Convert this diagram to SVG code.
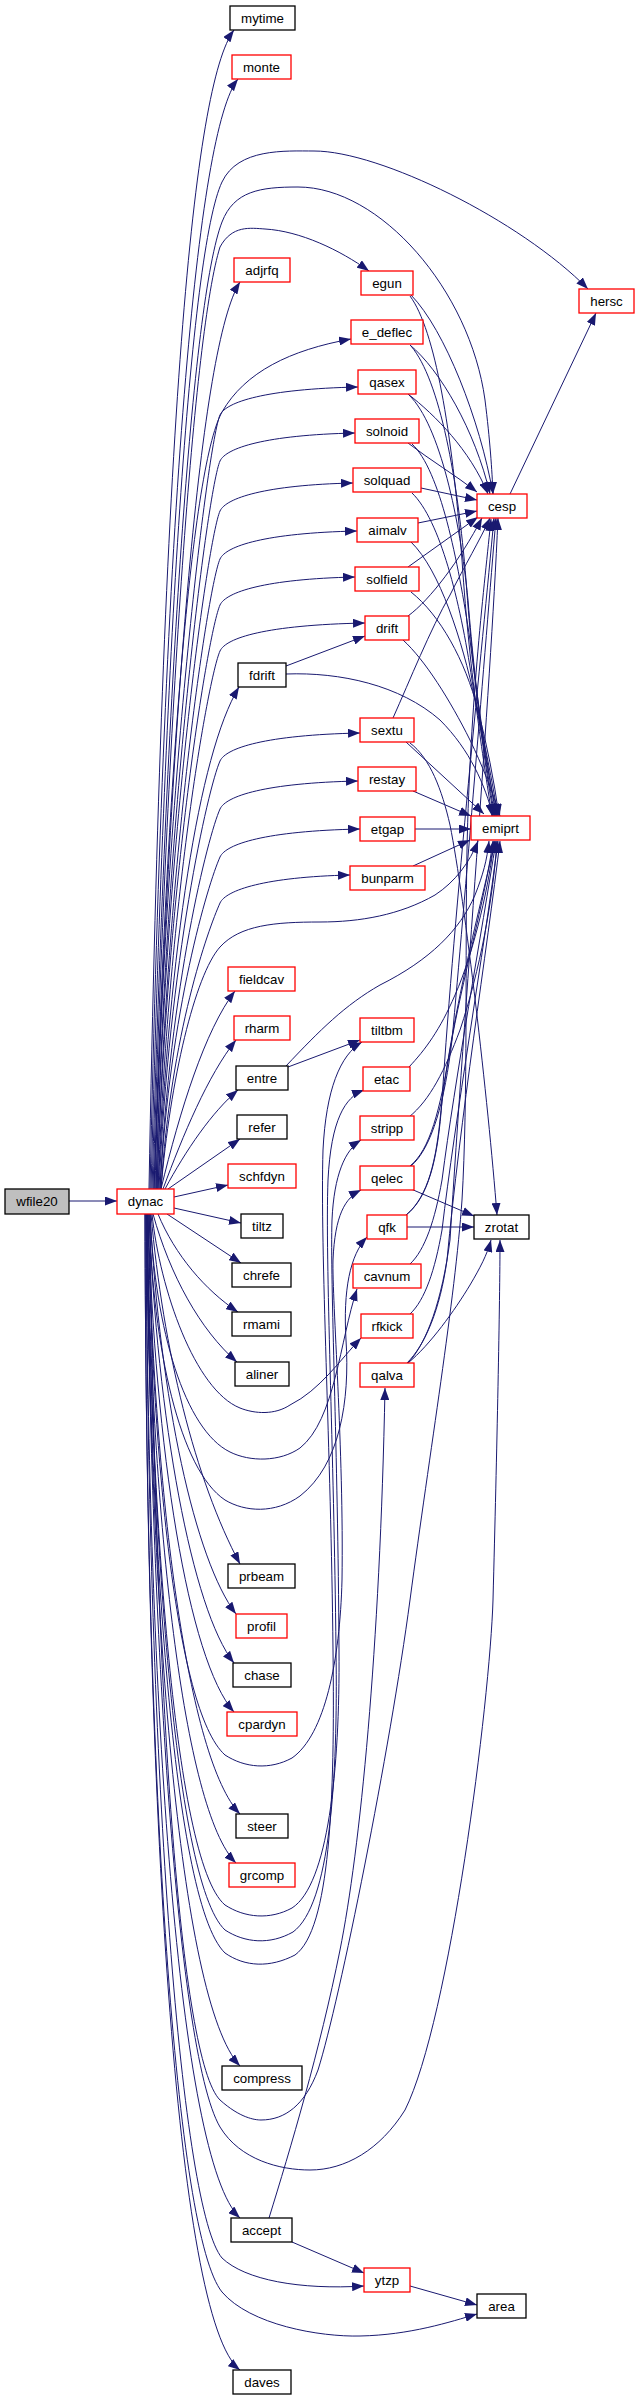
<svg xmlns="http://www.w3.org/2000/svg" width="636" height="2400" viewBox="0 0 636 2400">
<style>
.n rect{fill:#fff;stroke:#000;stroke-width:1.3}
.r rect{stroke:#ff0000}
.g rect{fill:#bfbfbf}
text{font-family:"Liberation Sans",Arial,Helvetica,sans-serif;font-size:13.3px;text-anchor:middle;fill:#000}
#edges path{fill:none;stroke:#191970;stroke-width:1;marker-end:url(#a)}
</style>
<defs>
<marker id="a" viewBox="0 0 12 9" refX="12" refY="4.5" markerWidth="12" markerHeight="9" markerUnits="userSpaceOnUse" orient="auto"><path d="M0,0 L12,4.5 L0,9 z" fill="#191970"/></marker>
</defs>
<rect width="636" height="2400" fill="#fff"/>
<g id="edges">
<path d="M69,1201 L117,1201"/>
<path d="M149,1189 C163,420 193,85 234,30"/>
<path d="M150,1189 C165,500 197,130 238,79"/>
<path d="M151,1189 C165,650 190,250 222,182 C238,148 285,151 314,151 C380,151 520,220 588,289"/>
<path d="M152,1189 C167,680 192,300 222,222 C234,191 260,187 298,187 C380,187 470,290 485,400 C490,440 492,470 493,494"/>
<path d="M153,1189 C168,700 194,330 220,247 C232,225 250,228 265,229 C300,231 340,250 369,271"/>
<path d="M154,1189 C172,700 200,345 240,282"/>
<path d="M154,1189 C166,800 190,470 222,412 C245,372 290,350 351,339"/>
<path d="M155,1189 C165,788 208,442 220,415 C226,402 265,389 358,387"/>
<path d="M156,1189 C166,811 208,488 220,461 C226,448 265,435 355,433"/>
<path d="M156,1189 C166,836 208,538 220,511 C226,498 265,485 353,483"/>
<path d="M157,1189 C167,860 208,586 220,559 C226,546 265,533 357,531"/>
<path d="M157,1189 C167,883 208,632 220,605 C226,592 265,579 355,577"/>
<path d="M158,1189 C168,906 208,678 220,651 C226,638 265,625 365,623"/>
<path d="M159,1189 C169,961 208,788 220,761 C226,748 265,735 360,733"/>
<path d="M160,1189 C170,985 208,836 220,809 C226,796 265,783 358,781"/>
<path d="M160,1189 C170,1009 208,884 220,857 C226,844 265,831 360,829"/>
<path d="M161,1189 C171,1032 208,930 220,903 C226,890 265,877 350,875"/>
<path d="M158,1189 C170,950 198,755 239,687"/>
<path d="M161,1189 C170,1080 195,975 220,947 C240,925 275,922 320,922 C360,922 400,915 435,895 C455,882 470,862 478,841"/>
<path d="M161,1189 C180,1110 205,1030 235,991"/>
<path d="M163,1189 C183,1135 208,1075 236,1040"/>
<path d="M165,1189 C186,1150 212,1112 238,1090"/>
<path d="M168,1189 L240,1139"/>
<path d="M174,1197 L228,1185"/>
<path d="M174,1208 L241,1223"/>
<path d="M167,1214 L241,1263"/>
<path d="M158,1214 C175,1255 205,1290 238,1312"/>
<path d="M153,1214 C170,1275 200,1330 237,1362"/>
<path d="M151,1214 C163,1350 195,1480 240,1564"/>
<path d="M150,1214 C160,1400 195,1560 236,1614"/>
<path d="M149,1214 C157,1420 192,1610 234,1663"/>
<path d="M148,1214 C155,1450 188,1660 234,1712"/>
<path d="M148,1214 C154,1500 188,1760 240,1814"/>
<path d="M147,1214 C152,1520 183,1810 236,1863"/>
<path d="M147,1214 C150,1600 178,2000 240,2066"/>
<path d="M146,1214 C148,1700 178,2160 240,2218"/>
<path d="M145,1214 C146,1800 175,2320 240,2370"/>
<path d="M146,1214 C148,1800 182,2210 222,2258 C245,2280 300,2290 364,2286"/>
<path d="M145,1214 C146,1800 176,2235 222,2292 C250,2325 320,2337 360,2336 C410,2335 450,2322 477,2314"/>
<path d="M152,1214 C160,1290 195,1390 240,1408 C255,1414 275,1415 290,1405 C320,1390 340,1360 361,1338"/>
<path d="M150,1214 C155,1330 185,1430 230,1452 C250,1462 280,1462 300,1448 C335,1420 340,1340 357,1289"/>
<path d="M149,1214 C153,1350 180,1470 225,1500 C245,1512 275,1514 300,1496 C340,1465 350,1400 346,1340 C343,1290 350,1255 367,1237"/>
<path d="M148,1214 C152,1450 175,1710 225,1755 C245,1768 270,1770 292,1758 C325,1735 340,1660 342,1580 C344,1450 332,1300 333,1260 C335,1215 345,1198 361,1190"/>
<path d="M147,1214 C151,1490 172,1860 225,1905 C245,1918 270,1920 292,1908 C328,1885 340,1770 339,1650 C338,1450 330,1280 332,1220 C334,1175 345,1150 361,1140"/>
<path d="M147,1214 C151,1500 172,1880 225,1930 C245,1943 270,1945 293,1932 C330,1905 338,1780 336,1650 C334,1450 325,1260 328,1180 C331,1120 345,1097 364,1090"/>
<path d="M146,1214 C150,1500 170,1900 225,1953 C245,1967 270,1968 295,1955 C330,1930 335,1800 333,1650 C331,1450 320,1250 323,1150 C326,1090 340,1055 362,1042"/>
<path d="M150,1214 C155,1700 180,2060 220,2100 C240,2118 255,2120 261,2120 C285,2120 305,2105 318,2070 C340,2000 390,1750 410,1600 C430,1450 455,1300 462,1200 C468,1100 465,950 467,850 C470,700 485,580 491,519"/>
<path d="M147,1214 C150,1600 175,2050 220,2127 C240,2160 280,2170 310,2170 C345,2170 380,2150 405,2110 C450,2020 490,1700 493,1600 C497,1450 500,1300 500,1240"/>
<path d="M286,666 L365,636"/>
<path d="M286,674 C340,672 400,685 440,720 C470,750 485,785 493,816"/>
<path d="M411,295 C445,330 480,420 493,494"/>
<path d="M410,296 C435,330 452,430 462,560 C470,680 485,770 492,816"/>
<path d="M410,345 C440,370 475,430 490,494"/>
<path d="M411,346 C440,380 458,480 466,580 C474,690 487,780 494,816"/>
<path d="M408,394 C435,415 470,450 488,494"/>
<path d="M409,395 C440,425 460,520 468,600 C476,700 488,780 495,816"/>
<path d="M408,443 C430,460 455,475 477,492"/>
<path d="M412,444 C440,470 458,560 470,640 C480,720 490,780 496,816"/>
<path d="M421,488 L477,500"/>
<path d="M412,493 C440,520 460,600 472,680 C482,740 490,780 497,816"/>
<path d="M418,523 L477,511"/>
<path d="M411,542 C440,570 462,640 475,700 C485,745 492,780 498,816"/>
<path d="M408,567 L478,517"/>
<path d="M411,592 C440,615 465,660 478,710 C487,745 494,780 499,816"/>
<path d="M408,616 C430,600 460,560 482,518"/>
<path d="M403,640 C425,660 450,700 470,740 C482,765 492,790 500,816"/>
<path d="M393,718 C410,680 430,630 450,595 C465,565 480,540 490,518"/>
<path d="M406,742 L484,814"/>
<path d="M410,743 C430,758 442,790 450,825 C465,900 488,1100 497,1215"/>
<path d="M413,791 L471,816"/>
<path d="M415,829 L471,829"/>
<path d="M413,866 L470,840"/>
<path d="M288,1067 L360,1040"/>
<path d="M286,1066 C320,1030 345,1005 380,985 C430,960 460,930 475,895 C483,875 487,860 489,841"/>
<path d="M409,1067 C425,1050 440,1030 455,995 C475,950 490,880 494,841"/>
<path d="M409,1117 C430,1100 445,1070 460,1030 C480,970 493,900 497,841"/>
<path d="M410,1166 C430,1150 440,1110 450,1050 C462,980 485,900 493,841"/>
<path d="M411,1166 C432,1148 445,1100 452,1040 C465,900 485,650 496,518"/>
<path d="M411,1189 L474,1216"/>
<path d="M405,1216 C425,1200 435,1170 440,1120 C450,1020 482,900 495,841"/>
<path d="M406,1215 C428,1198 438,1160 442,1100 C455,900 482,650 494,518"/>
<path d="M407,1227 L474,1227"/>
<path d="M410,1264 C425,1250 435,1220 442,1180 C455,1080 482,930 496,841"/>
<path d="M410,1314 C425,1300 435,1270 442,1230 C455,1120 484,950 498,841"/>
<path d="M407,1363 C425,1345 440,1310 447,1260 C460,1120 487,950 500,841"/>
<path d="M408,1363 C427,1343 442,1300 450,1240 C465,1000 490,700 498,518"/>
<path d="M408,1363 C430,1345 455,1310 470,1285 C480,1268 487,1255 491,1240"/>
<path d="M510,494 L596,313"/>
<path d="M292,2242 L364,2273"/>
<path d="M269,2218 C290,2150 320,2050 340,1950 C360,1850 380,1650 385,1388"/>
<path d="M410,2286 L477,2305"/>
</g>
<g id="node_wfile20" class="n g"><rect x="5" y="1189" width="64" height="25"/><text x="37" y="1206">wfile20</text></g>
<g id="node_dynac" class="n r"><rect x="117" y="1189" width="57" height="25"/><text x="145.5" y="1206">dynac</text></g>
<g id="node_mytime" class="n"><rect x="230" y="6" width="65" height="24"/><text x="262.5" y="22.5">mytime</text></g>
<g id="node_monte" class="n r"><rect x="232" y="55" width="59" height="24"/><text x="261.5" y="71.5">monte</text></g>
<g id="node_adjrfq" class="n r"><rect x="234" y="258" width="56" height="24"/><text x="262" y="274.5">adjrfq</text></g>
<g id="node_fdrift" class="n"><rect x="238" y="663" width="48" height="24"/><text x="262" y="679.5">fdrift</text></g>
<g id="node_fieldcav" class="n r"><rect x="228" y="967" width="67" height="24"/><text x="261.5" y="983.5">fieldcav</text></g>
<g id="node_rharm" class="n r"><rect x="234" y="1016" width="56" height="24"/><text x="262" y="1032.5">rharm</text></g>
<g id="node_entre" class="n"><rect x="236" y="1066" width="52" height="24"/><text x="262" y="1082.5">entre</text></g>
<g id="node_refer" class="n"><rect x="237" y="1115" width="50" height="24"/><text x="262" y="1131.5">refer</text></g>
<g id="node_schfdyn" class="n r"><rect x="228" y="1164" width="68" height="24"/><text x="262" y="1180.5">schfdyn</text></g>
<g id="node_tiltz" class="n"><rect x="241" y="1214" width="42" height="24"/><text x="262" y="1230.5">tiltz</text></g>
<g id="node_chrefe" class="n"><rect x="232" y="1263" width="59" height="24"/><text x="261.5" y="1279.5">chrefe</text></g>
<g id="node_rmami" class="n"><rect x="232" y="1312" width="59" height="24"/><text x="261.5" y="1328.5">rmami</text></g>
<g id="node_aliner" class="n"><rect x="235" y="1362" width="54" height="24"/><text x="262" y="1378.5">aliner</text></g>
<g id="node_prbeam" class="n"><rect x="228" y="1564" width="67" height="24"/><text x="261.5" y="1580.5">prbeam</text></g>
<g id="node_profil" class="n r"><rect x="236" y="1614" width="51" height="24"/><text x="261.5" y="1630.5">profil</text></g>
<g id="node_chase" class="n"><rect x="233" y="1663" width="58" height="24"/><text x="262" y="1679.5">chase</text></g>
<g id="node_cpardyn" class="n r"><rect x="227" y="1712" width="70" height="24"/><text x="262" y="1728.5">cpardyn</text></g>
<g id="node_steer" class="n"><rect x="236" y="1814" width="52" height="24"/><text x="262" y="1830.5">steer</text></g>
<g id="node_grcomp" class="n r"><rect x="229" y="1863" width="66" height="24"/><text x="262" y="1879.5">grcomp</text></g>
<g id="node_compress" class="n"><rect x="222" y="2066" width="80" height="24"/><text x="262" y="2082.5">compress</text></g>
<g id="node_accept" class="n"><rect x="231" y="2218" width="61" height="24"/><text x="261.5" y="2234.5">accept</text></g>
<g id="node_daves" class="n"><rect x="233" y="2370" width="58" height="24"/><text x="262" y="2386.5">daves</text></g>
<g id="node_egun" class="n r"><rect x="361" y="271" width="52" height="24"/><text x="387" y="287.5">egun</text></g>
<g id="node_e_deflec" class="n r"><rect x="351" y="320" width="72" height="24"/><text x="387" y="336.5">e_deflec</text></g>
<g id="node_qasex" class="n r"><rect x="358" y="370" width="58" height="24"/><text x="387" y="386.5">qasex</text></g>
<g id="node_solnoid" class="n r"><rect x="355" y="419" width="64" height="24"/><text x="387" y="435.5">solnoid</text></g>
<g id="node_solquad" class="n r"><rect x="353" y="468" width="68" height="24"/><text x="387" y="484.5">solquad</text></g>
<g id="node_aimalv" class="n r"><rect x="357" y="518" width="61" height="24"/><text x="387.5" y="534.5">aimalv</text></g>
<g id="node_solfield" class="n r"><rect x="355" y="567" width="64" height="24"/><text x="387" y="583.5">solfield</text></g>
<g id="node_drift" class="n r"><rect x="365" y="616" width="44" height="24"/><text x="387" y="632.5">drift</text></g>
<g id="node_sextu" class="n r"><rect x="360" y="718" width="54" height="24"/><text x="387" y="734.5">sextu</text></g>
<g id="node_restay" class="n r"><rect x="358" y="767" width="58" height="24"/><text x="387" y="783.5">restay</text></g>
<g id="node_etgap" class="n r"><rect x="360" y="817" width="55" height="24"/><text x="387.5" y="833.5">etgap</text></g>
<g id="node_bunparm" class="n r"><rect x="350" y="866" width="75" height="24"/><text x="387.5" y="882.5">bunparm</text></g>
<g id="node_tiltbm" class="n r"><rect x="360" y="1018" width="54" height="24"/><text x="387" y="1034.5">tiltbm</text></g>
<g id="node_etac" class="n r"><rect x="363" y="1067" width="47" height="24"/><text x="386.5" y="1083.5">etac</text></g>
<g id="node_stripp" class="n r"><rect x="360" y="1116" width="54" height="24"/><text x="387" y="1132.5">stripp</text></g>
<g id="node_qelec" class="n r"><rect x="360" y="1166" width="54" height="24"/><text x="387" y="1182.5">qelec</text></g>
<g id="node_qfk" class="n r"><rect x="367" y="1215" width="40" height="24"/><text x="387" y="1231.5">qfk</text></g>
<g id="node_cavnum" class="n r"><rect x="353" y="1264" width="68" height="24"/><text x="387" y="1280.5">cavnum</text></g>
<g id="node_rfkick" class="n r"><rect x="361" y="1314" width="52" height="24"/><text x="387" y="1330.5">rfkick</text></g>
<g id="node_qalva" class="n r"><rect x="360" y="1363" width="54" height="24"/><text x="387" y="1379.5">qalva</text></g>
<g id="node_ytzp" class="n r"><rect x="364" y="2268" width="46" height="24"/><text x="387" y="2284.5">ytzp</text></g>
<g id="node_hersc" class="n r"><rect x="579" y="289" width="55" height="24"/><text x="606.5" y="305.5">hersc</text></g>
<g id="node_cesp" class="n r"><rect x="477" y="494" width="50" height="24"/><text x="502" y="510.5">cesp</text></g>
<g id="node_emiprt" class="n r"><rect x="471" y="816" width="59" height="24"/><text x="500.5" y="832.5">emiprt</text></g>
<g id="node_zrotat" class="n"><rect x="474" y="1215" width="55" height="24"/><text x="501.5" y="1231.5">zrotat</text></g>
<g id="node_area" class="n"><rect x="477" y="2294" width="49" height="24"/><text x="501.5" y="2310.5">area</text></g>
</svg>
